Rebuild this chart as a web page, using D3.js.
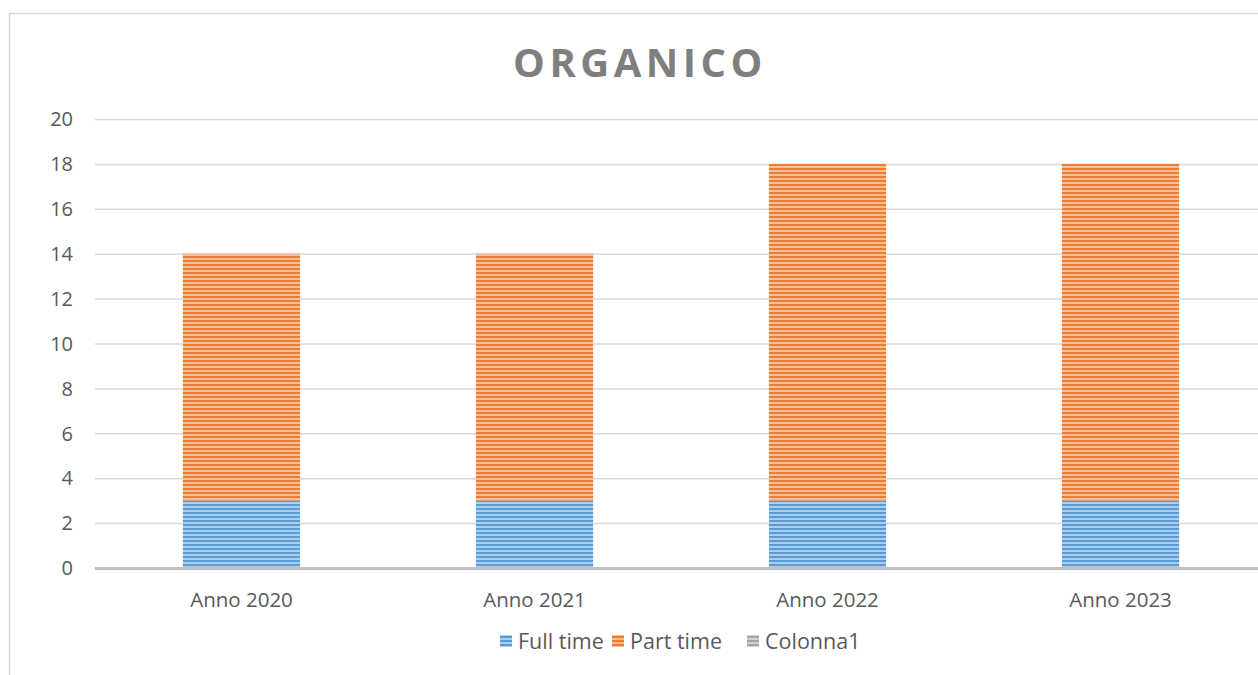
<!DOCTYPE html>
<html><head><meta charset="utf-8">
<script src="https://cdn.jsdelivr.net/npm/d3@7"></script>
<style>html,body{margin:0;padding:0;background:#fff;overflow:hidden}</style>
</head><body>
<svg id="c" width="1258" height="675"></svg>
<script>
const categories = ["Anno 2020", "Anno 2021", "Anno 2022", "Anno 2023"];
const fullTime = [3, 3, 3, 3];
const partTime = [11, 11, 15, 15];
const colonna1 = [0, 0, 0, 0];
const seriesNames = ["Full time", "Part time", "Colonna1"];
const seriesColors = ["#5b9bd5", "#ed7d31", "#a5a5a5"];
const yTicks = [0, 2, 4, 6, 8, 10, 12, 14, 16, 18, 20];

const svg = d3.select("#c");
const font = "'Open Sans', sans-serif";

// patterns
const defs = svg.append("defs");
seriesColors.forEach((c, i) => {
  const p = defs.append("pattern").attr("id", "pat" + i)
    .attr("patternUnits", "userSpaceOnUse").attr("width", 8).attr("height", 4);
  p.append("rect").attr("width", 8).attr("height", 4).attr("fill", d3.interpolateRgb(c, "#fff")(0.5));
  p.append("rect").attr("width", 8).attr("height", 2).attr("fill", c);
});

// chart border
svg.append("path").attr("d", "M9.5,675 V13.5 H1258").attr("fill", "none").attr("stroke", "#d9d9d9").attr("stroke-width", 1.5);

// title
svg.append("text").attr("x", 640).attr("y", 77).attr("text-anchor", "middle")
  .attr("font-family", font).attr("font-weight", "bold").attr("font-size", 40)
  .attr("letter-spacing", 4.5).attr("fill", "#7f7f7f").text("ORGANICO");

const x = d3.scaleBand().domain(categories).range([95, 1267]).paddingInner(0.6).paddingOuter(0.3);
const y = d3.scaleLinear().domain([0, 20]).range([568, 119]);

// gridlines
svg.append("g").selectAll("line").data(yTicks.filter(d => d > 0)).join("line")
  .attr("x1", 95).attr("x2", 1267).attr("y1", d => y(d) + 0.5).attr("y2", d => y(d) + 0.5)
  .attr("stroke", "#d9d9d9").attr("stroke-width", 1.5);

// y labels
svg.append("g").selectAll("text").data(yTicks).join("text")
  .attr("x", 73).attr("y", d => y(d)).attr("dy", "0.36em").attr("text-anchor", "end")
  .attr("font-family", font).attr("font-size", 20).attr("fill", "#595959").text(d => d);

// stacked bars
const rows = categories.map((c, i) => ({cat: c, "Full time": fullTime[i], "Part time": partTime[i], "Colonna1": colonna1[i]}));
const stack = d3.stack().keys(seriesNames)(rows);
stack.forEach((s, si) => {
  svg.append("g").selectAll("rect").data(s).join("rect")
    .attr("x", d => x(d.data.cat)).attr("width", x.bandwidth())
    .attr("y", d => y(d[1])).attr("height", d => y(d[0]) - y(d[1]))
    .attr("fill", "url(#pat" + si + ")");
});

// baseline
svg.append("line").attr("x1", 95).attr("x2", 1267).attr("y1", 568.5).attr("y2", 568.5)
  .attr("stroke", "#bfbfbf").attr("stroke-width", 3);

// x labels
svg.append("g").selectAll("text").data(categories).join("text")
  .attr("x", d => x(d) + x.bandwidth() / 2).attr("y", 607).attr("text-anchor", "middle")
  .attr("font-family", font).attr("font-size", 20.5).attr("fill", "#595959").text(d => d);

// legend
const legX = [500, 612, 747];
const lg = svg.append("g");
seriesNames.forEach((n, i) => {
  lg.append("rect").attr("x", legX[i]).attr("y", 635).attr("width", 12).attr("height", 12).attr("fill", "url(#pat" + i + ")");
  lg.append("text").attr("x", legX[i] + 18).attr("y", 641).attr("dy", "0.36em")
    .attr("font-family", font).attr("font-size", 21.5).attr("fill", "#595959").text(n);
});
</script>
</body></html>
